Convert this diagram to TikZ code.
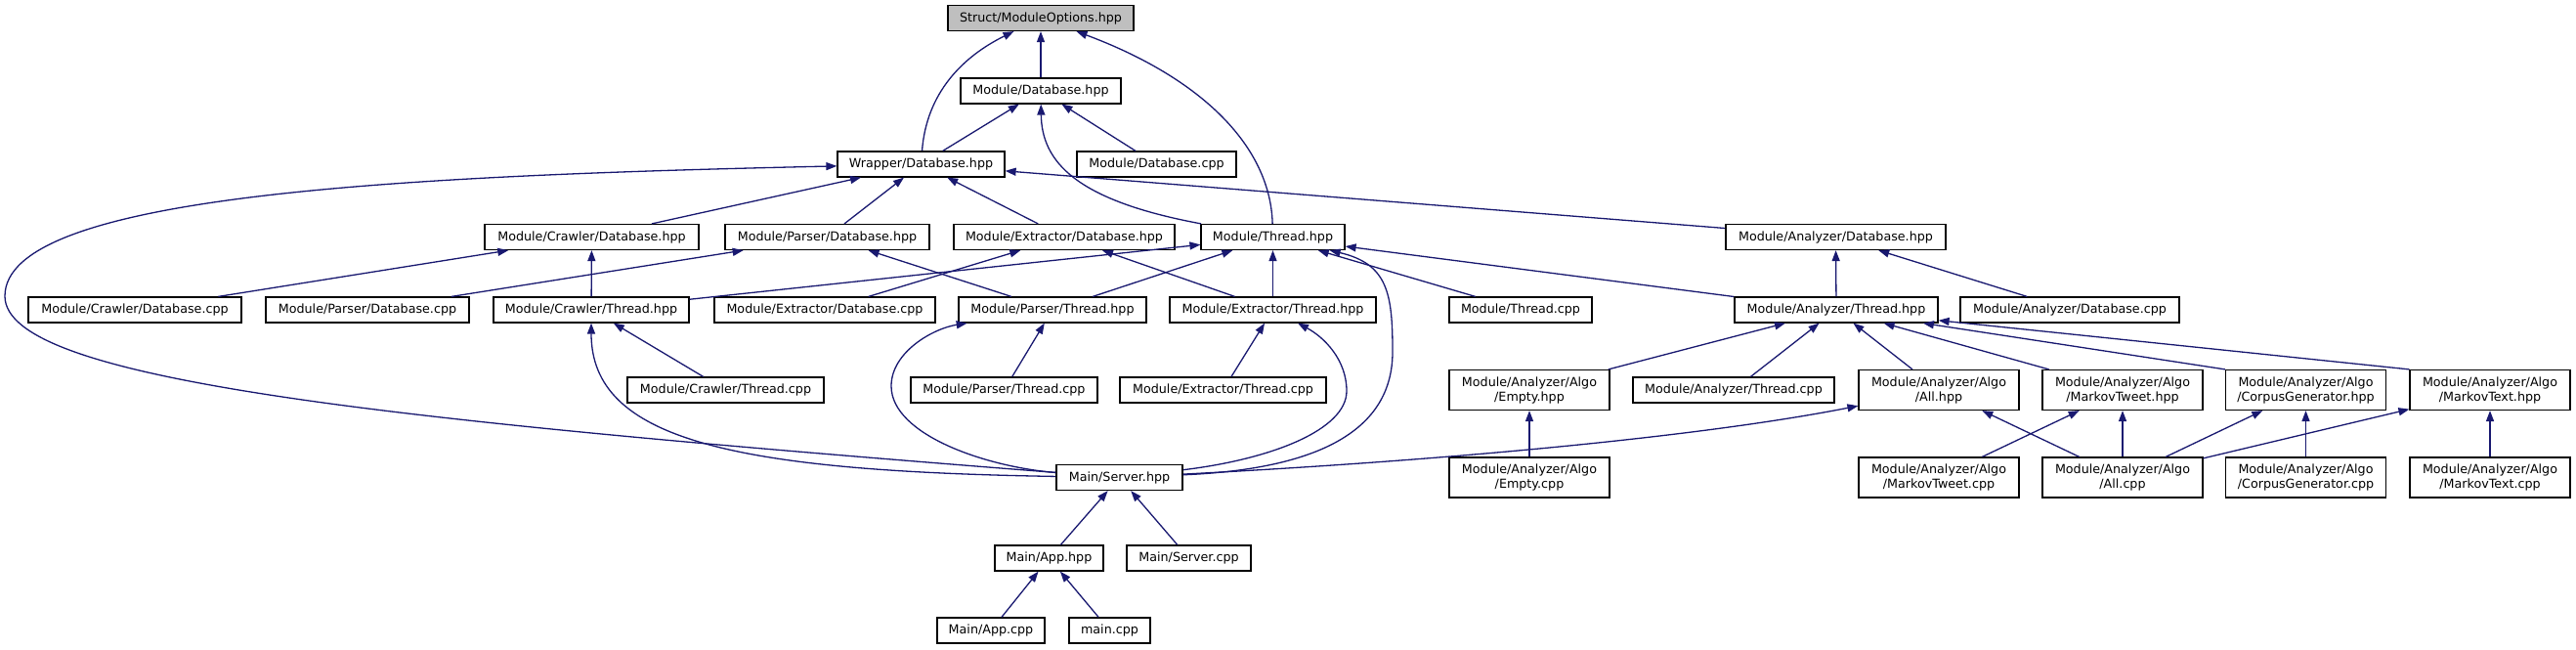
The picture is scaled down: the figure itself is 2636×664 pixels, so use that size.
\documentclass[tikz,border=0pt]{standalone}
\usepackage{fontspec}
\setmainfont{DejaVu Sans}
\usepackage{tikz}
\usetikzlibrary{arrows.meta,positioning,calc}
\definecolor{midnightblue}{RGB}{25,25,112}

\begin{document}
\begin{tikzpicture}[
    x=1pt, y=-1pt,
    font=\fontsize{12.7}{15}\selectfont,
    file/.style={draw=black, line width=1.2pt, fill=white, inner sep=0pt,
                 minimum height=26pt, align=center},
    root/.style={file, fill=black!25},
    algo/.style={file, minimum width=164pt, minimum height=41pt},
    incl/.style={->, draw=midnightblue, line width=1.3pt,
                 >={Triangle[length=11pt,width=8pt]}},
]
\useasboundingbox (0,0) rectangle (2636,664);

% Ebene 0 + 1
\node[root, minimum width=190pt] (opts)  at (1065,18.5) {Struct/ModuleOptions.hpp};
\node[file, minimum width=164pt] (moddb) at (1065,93)   {Module/Database.hpp};

% Ebene 2
\node[file, minimum width=171pt] (wrapdb)   at (942.5,168)  {Wrapper/Database.hpp};
\node[file, minimum width=163pt] (moddbcpp) at (1183.5,168) {Module/Database.cpp};

% Ebene 3
\node[file, minimum width=219pt] (crdb) at (605.5,242.5)  {Module/Crawler/Database.hpp};
\node[file, minimum width=209pt] (padb) at (846.5,242.5)  {Module/Parser/Database.hpp};
\node[file, minimum width=226pt] (exdb) at (1089,242.5)   {Module/Extractor/Database.hpp};
\node[file, minimum width=147pt] (thr)  at (1302.5,242.5) {Module/Thread.hpp};
\node[file, minimum width=225pt] (andb) at (1878.5,242.5) {Module/Analyzer/Database.hpp};

% Ebene 4
\node[file, minimum width=218pt] (crdbc) at (138,317)    {Module/Crawler/Database.cpp};
\node[file, minimum width=208pt] (padbc) at (376,317)    {Module/Parser/Database.cpp};
\node[file, minimum width=200pt] (crth)  at (605,317)    {Module/Crawler/Thread.hpp};
\node[file, minimum width=226pt] (exdbc) at (844,317)    {Module/Extractor/Database.cpp};
\node[file, minimum width=192pt] (path)  at (1077,317)   {Module/Parser/Thread.hpp};
\node[file, minimum width=211pt] (exth)  at (1302.5,317) {Module/Extractor/Thread.hpp};
\node[file, minimum width=146pt] (thrc)  at (1556,317)   {Module/Thread.cpp};
\node[file, minimum width=208pt] (anth)  at (1879,317)   {Module/Analyzer/Thread.hpp};
\node[file, minimum width=224pt] (andbc) at (2118,317)   {Module/Analyzer/Database.cpp};

% Ebene 5
\node[file, minimum width=201pt] (crthc) at (742.5,399)  {Module/Crawler/Thread.cpp};
\node[file, minimum width=191pt] (pathc) at (1027.5,399) {Module/Parser/Thread.cpp};
\node[file, minimum width=211pt] (exthc) at (1251.5,399) {Module/Extractor/Thread.cpp};
\node[algo] (empty) at (1565,399) {Module/Analyzer/Algo\\/Empty.hpp};
\node[file, minimum width=206pt] (anthc) at (1774,399)   {Module/Analyzer/Thread.cpp};
\node[algo] (allh)  at (1984,399)   {Module/Analyzer/Algo\\/All.hpp};
\node[algo] (mtwh)  at (2172,399)   {Module/Analyzer/Algo\\/MarkovTweet.hpp};
\node[algo] (corph) at (2359.5,399) {Module/Analyzer/Algo\\/CorpusGenerator.hpp};
\node[algo] (mtxh)  at (2548,399)   {Module/Analyzer/Algo\\/MarkovText.hpp};

% Ebene 6
\node[file, minimum width=129pt] (server) at (1145.5,488.5) {Main/Server.hpp};
\node[algo] (emptyc) at (1565,488.5)   {Module/Analyzer/Algo\\/Empty.cpp};
\node[algo] (mtwc)   at (1984,488.5)   {Module/Analyzer/Algo\\/MarkovTweet.cpp};
\node[algo] (allc)   at (2172,488.5)   {Module/Analyzer/Algo\\/All.cpp};
\node[algo] (corpc)  at (2359.5,488.5) {Module/Analyzer/Algo\\/CorpusGenerator.cpp};
\node[algo] (mtxc)   at (2548,488.5)   {Module/Analyzer/Algo\\/MarkovText.cpp};

% Ebene 7 + 8
\node[file, minimum width=111pt] (app)   at (1073.5,571) {Main/App.hpp};
\node[file, minimum width=127pt] (servc) at (1216.5,571) {Main/Server.cpp};
\node[file, minimum width=110pt] (appc)  at (1014,645)   {Main/App.cpp};
\node[file, minimum width=83pt]  (mainc) at (1135.5,645) {main.cpp};

% Includes oben
\draw[incl] (moddb) -- (opts);
\draw[incl] (wrapdb) .. controls (948,95) and (985,58) .. (opts);
\draw[incl] (thr) .. controls (1300,150) and (1230,80) .. (opts);
\draw[incl] (wrapdb) -- (moddb);
\draw[incl] (moddbcpp) -- (moddb);
\draw[incl] (thr) .. controls (1100,205) and (1066,165) .. (moddb);

% Wrapper/Database.hpp
\draw[incl] (crdb) -- (wrapdb);
\draw[incl] (padb) -- (wrapdb);
\draw[incl] (exdb) -- (wrapdb);
\draw[incl] (andb) -- (wrapdb);
\draw[incl] (server) .. controls (400,430) and (5,390) .. (5,303)
                     .. controls (5,200) and (400,180) .. (wrapdb);

% Datenbanken der Module
\draw[incl] (crdbc) -- (crdb);
\draw[incl] (crth) -- (crdb);
\draw[incl] (padbc) -- (padb);
\draw[incl] (path) -- (padb);
\draw[incl] (exdbc) -- (exdb);
\draw[incl] (exth) -- (exdb);
\draw[incl] (anth) -- (andb);
\draw[incl] (andbc) -- (andb);

% Module/Thread.hpp
\draw[incl] (crth) -- (thr);
\draw[incl] (path) -- (thr);
\draw[incl] (exth) -- (thr);
\draw[incl] (thrc) -- (thr);
\draw[incl] (anth) -- (thr);
\draw[incl] (server) .. controls (1350,480) and (1425,440) .. (1425,360)
                     .. controls (1425,300) and (1420,270) .. (thr);

% Threads
\draw[incl] (crthc) -- (crth);
\draw[incl] (server) .. controls (750,482) and (605,450) .. (crth);
\draw[incl] (pathc) -- (path);
\draw[incl] (server) .. controls (1010,478) and (912,445) .. (912,395)
                     .. controls (912,360) and (955,336) .. (path);
\draw[incl] (exthc) -- (exth);
\draw[incl] (server) .. controls (1300,470) and (1378,440) .. (1378,400)
                     .. controls (1378,368) and (1355,345) .. (exth);

% Analyzer
\draw[incl] (empty) -- (anth);
\draw[incl] (anthc) -- (anth);
\draw[incl] (allh) -- (anth);
\draw[incl] (mtwh) -- (anth);
\draw[incl] (corph.north west) -- (anth);
\draw[incl] (mtxh.north west) -- (anth);
\draw[incl] (emptyc) -- (empty);
\draw[incl] (server) .. controls (1500,470) and (1750,445) .. (allh);
\draw[incl] (allc) -- (allh);
\draw[incl] (mtwc) -- (mtwh);
\draw[incl] (allc) -- (mtwh);
\draw[incl] (allc) -- (corph);
\draw[incl] (corpc) -- (corph);
\draw[incl] (allc) -- (mtxh);
\draw[incl] (mtxc) -- (mtxh);

% Main
\draw[incl] (app) -- (server);
\draw[incl] (servc) -- (server);
\draw[incl] (appc) -- (app);
\draw[incl] (mainc) -- (app);
\end{tikzpicture}
\end{document}
